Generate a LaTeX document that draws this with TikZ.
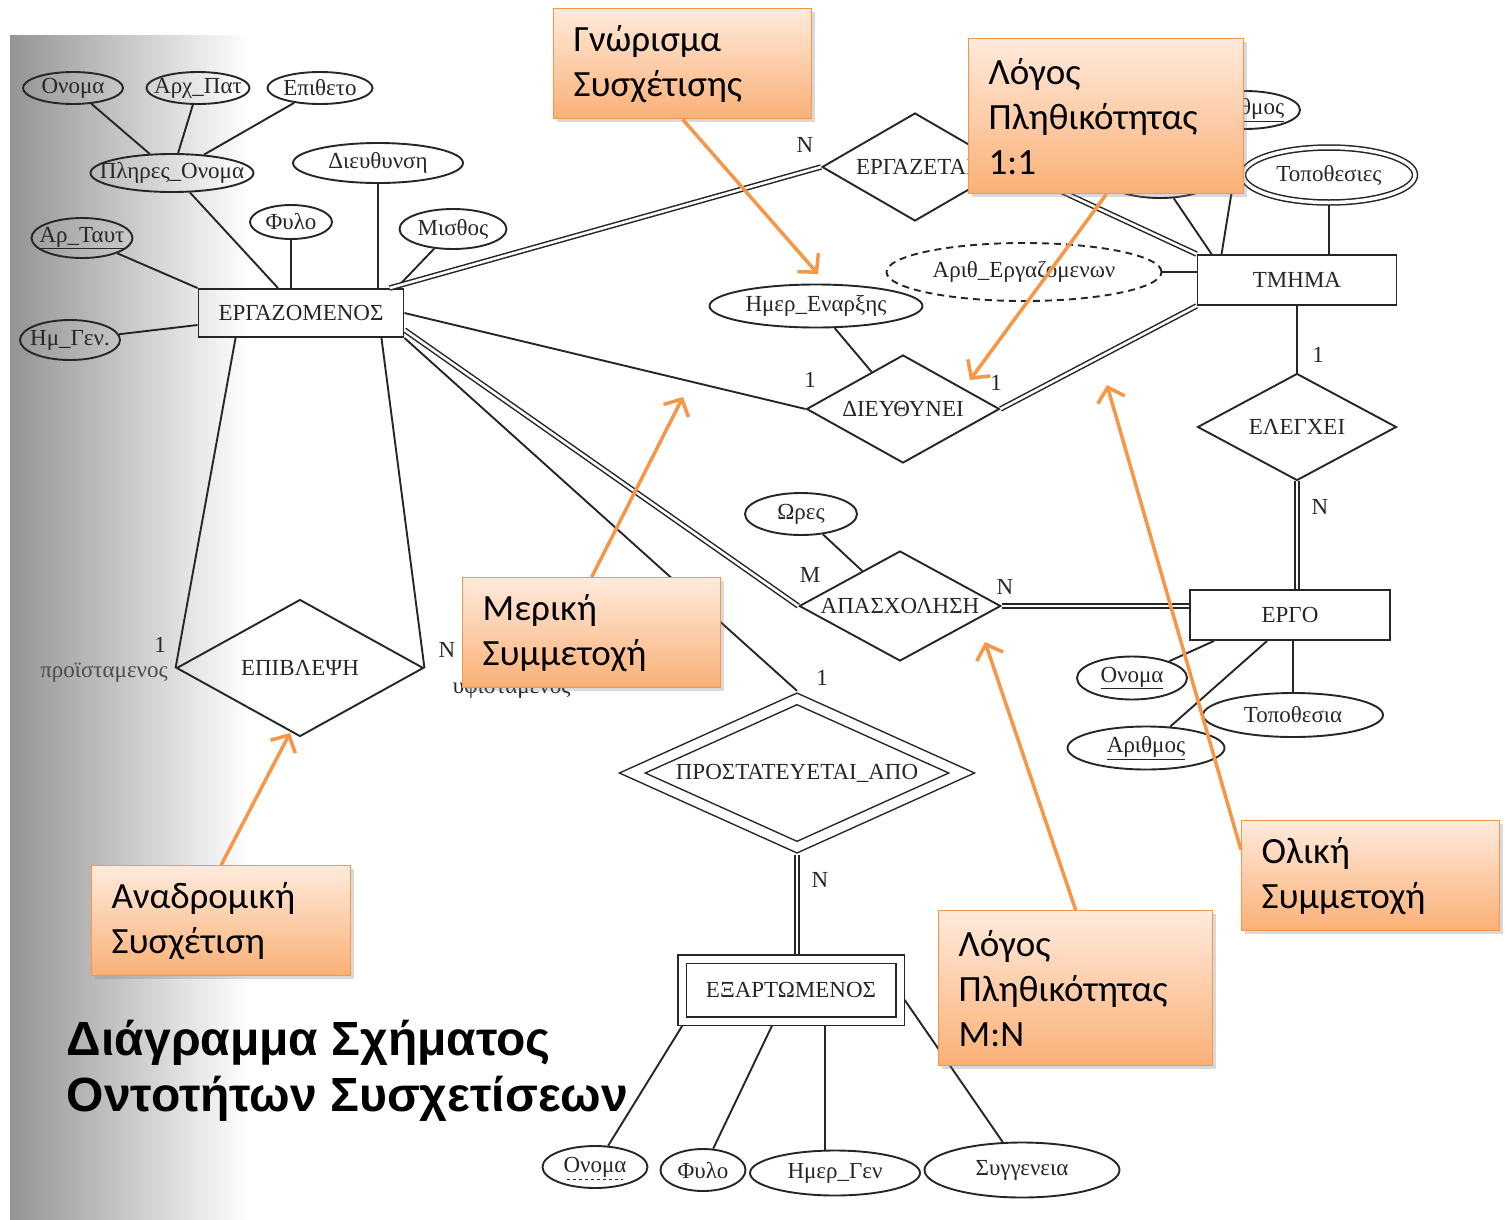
\documentclass[tikz,border=0pt]{standalone}
\usepackage{fontspec}
\setmainfont{Liberation Serif}
\newfontfamily\calfont{Carlito}
\newfontfamily\headfont{Liberation Sans}
\usepackage{tikz}
\usepackage{xcolor}
\usetikzlibrary{shapes.geometric, arrows.meta, shadows, positioning}

\definecolor{callorange}{RGB}{247,150,70}
\definecolor{calltop}{RGB}{255,234,220}
\definecolor{callbot}{RGB}{250,176,118}

\tikzset{
  entity/.style={draw, rectangle, inner sep=0pt},
  attrib/.style={draw, ellipse, inner xsep=-100pt, inner ysep=0pt},
  rel/.style={draw, diamond, aspect=2, inner sep=2pt},
  card/.style={inner sep=0pt},
  dbl/.style={double, double distance=2.6pt, line width=1.5pt},
  callout/.style={draw=callorange, line width=1.4pt, top color=calltop, bottom color=callbot,
    anchor=north west, align=left, inner xsep=20pt, inner ysep=0pt,
    font=\calfont\fontsize{37}{45}\selectfont,
    drop shadow={opacity=0.3, shadow xshift=3pt, shadow yshift=-3pt}},
  callarrow/.style={draw=callorange, line width=3.5pt, -{Straight Barb[length=13pt, width=28pt]}}
}

\begin{document}
\begin{tikzpicture}[x=1pt, y=-1pt, line width=1.9pt, draw=black!85, text=black!85, font=\fontsize{23}{25}\selectfont]
\useasboundingbox (0,0) rectangle (1505,1219);
\shade[left color=black!42, middle color=black!14, right color=white] (10,35) rectangle (250,1219);

% entities and relationships
\node[entity, minimum width=205pt, minimum height=48pt] (erg) at (301,313) {ΕΡΓΑΖΟΜΕΝΟΣ};
\node[entity, minimum width=199pt, minimum height=50pt] (tmima) at (1297,280) {ΤΜΗΜΑ};
\node[entity, minimum width=200pt, minimum height=50pt] (ergo) at (1290,615) {ΕΡΓΟ};
\node[entity, double, double distance=7pt, line width=1.5pt, outer sep=4.7pt, minimum width=218pt, minimum height=62pt] (exart) at (791,990) {ΕΞΑΡΤΩΜΕΝΟΣ};

\node[rel, minimum width=186pt, minimum height=108pt] (ergazetai) at (915,167) {ΕΡΓΑΖΕΤΑΙ};
\node[rel, minimum width=193pt, minimum height=108pt] (dieyth) at (903,409) {ΔΙΕΥΘΥΝΕΙ};
\node[rel, minimum width=199pt, minimum height=107pt] (elegxei) at (1297,427) {ΕΛΕΓΧΕΙ};
\node[rel, minimum width=194pt, minimum height=110pt] (apasx) at (900,606) {ΑΠΑΣΧΟΛΗΣΗ};
\node[rel, minimum width=247pt, minimum height=137pt] (epivl) at (300,668) {ΕΠΙΒΛΕΨΗ};
\node[rel, aspect=2.2, double, double distance=9pt, line width=1.5pt, outer sep=5.7pt, minimum width=334pt, minimum height=153pt] (prost) at (797,773) {ΠΡΟΣΤΑΤΕΥΕΤΑΙ\_ΑΠΟ};

% attributes
\node[attrib, minimum width=100pt, minimum height=32pt] (ono1) at (73,88) {Ονομα};
\node[attrib, minimum width=103pt, minimum height=32pt] (arxpat) at (198,88) {Αρχ\_Πατ};
\node[attrib, minimum width=105pt, minimum height=32pt] (epith) at (320,88) {Επιθετο};
\node[attrib, minimum width=163pt, minimum height=38pt] (plires) at (172,173) {Πληρες\_Ονομα};
\node[attrib, minimum width=170pt, minimum height=40pt] (dieythynsi) at (378,163) {Διευθυνση};
\node[attrib, minimum width=82pt, minimum height=34pt] (fylo) at (291,222) {Φυλο};
\node[attrib, minimum width=107pt, minimum height=40pt] (misthos) at (453,229) {Μισθος};
\node[attrib, minimum width=101pt, minimum height=40pt] (artayt) at (82,238) {\underline{Αρ\_Ταυτ}};
\node[attrib, minimum width=100pt, minimum height=40pt] (hmgen) at (70,340) {Ημ\_Γεν.};

\node[attrib, minimum width=110pt, minimum height=40pt] (tono) at (1160,178) {Ονομα};
\node[attrib, minimum width=110pt, minimum height=38pt] (tarith) at (1245,110) {\underline{Αριθμος}};
\node[attrib, double, double distance=3.5pt, line width=1.5pt, outer sep=3pt, minimum width=172pt, minimum height=55pt] (topoth) at (1329,175) {Τοποθεσιες};
\node[attrib, dash pattern=on 7pt off 5pt, minimum width=275pt, minimum height=58pt] (arithe) at (1024,272) {Αριθ\_Εργαζομενων};
\node[attrib, minimum width=213pt, minimum height=43pt] (hmerenar) at (816,306) {Ημερ\_Εναρξης};
\node[attrib, minimum width=112pt, minimum height=42pt] (ores) at (801,514) {Ωρες};

\node[attrib, minimum width=110pt, minimum height=43pt] (eono) at (1132,678) {\underline{Ονομα}};
\node[attrib, minimum width=157pt, minimum height=43pt] (earith) at (1146,748) {\underline{Αριθμος}};
\node[attrib, minimum width=180pt, minimum height=44pt] (etopo) at (1293,715) {Τοποθεσια};

\node[attrib, minimum width=105pt, minimum height=42pt] (dono) at (595,1167) {Ονομα};
\node[attrib, minimum width=85pt, minimum height=42pt] (dfylo) at (703,1170) {Φυλο};
\node[attrib, minimum width=170pt, minimum height=45pt] (dhmer) at (835,1173) {Ημερ\_Γεν};
\node[attrib, minimum width=195pt, minimum height=55pt] (dsygg) at (1022,1170) {Συγγενεια};
\draw[dashed, line width=0.9pt] ([shift={(-28,12)}]dono.center) -- ([shift={(28,12)}]dono.center);

% cardinalities and roles
\node[card] (cn1) at (805,145) {N};
\node[card] (cd1) at (810,380) {1};
\node[card] (cd2) at (996,383) {1};
\node[card] (ct1) at (1318,355) {1};
\node[card] (ce1) at (1320,507) {N};
\node[card] (ca1) at (810,575) {M};
\node[card] (ca2) at (1005,587) {N};
\node[card] (cp1) at (822,678) {1};
\node[card] (cp2) at (820,880) {N};
\node[card] (cs1) at (160,645) {1};
\node[card] (cs2) at (447,650) {N};
\node[card, text=black!70] (role1) at (104,673) {προϊσταμενος};
\node[card, anchor=west] (role2) at (452,690) {υφισταμενος};

% connectors
\draw (ono1) -- (plires);
\draw (arxpat) -- (plires);
\draw (epith) -- (plires);
\draw (plires) -- (erg);
\draw (fylo) -- (fylo |- erg.north);
\draw (dieythynsi) -- (dieythynsi |- erg.north);
\draw (misthos) -- ([xshift=-8pt]erg.north east);
\draw (artayt) -- (erg.north west);
\draw (hmgen) -- ([yshift=-12pt]erg.west);

\draw[dbl] (erg) -- (ergazetai.west);
\draw[dbl] (ergazetai.east) -- (tmima.north west);
\draw (erg.east) -- (dieyth.west);
\draw[dbl] (dieyth.east) -- (tmima.south west);
\draw[dbl] ([yshift=8pt]erg.south east) -- (apasx.west);
\draw (erg.south east) -- (prost.north);
\draw ([xshift=38pt]erg.south west) -- (epivl.west);
\draw ([xshift=-23pt]erg.south east) -- (epivl.east);
\draw (tmima) -- (elegxei);
\draw[dbl] (elegxei.south) -- (elegxei.south |- ergo.north);
\draw[dbl] (apasx.east) -- (apasx.east -| ergo.west);
\draw[dbl] (prost.south) -- (prost.south |- exart.north);

\draw (tono) -- ([xshift=15pt]tmima.north west);
\draw (tarith) -- ([xshift=25pt]tmima.north west);
\draw (topoth) -- (topoth |- tmima.north);
\draw (arithe.east) -- (arithe.east -| tmima.west);
\draw (hmerenar) -- (dieyth);
\draw (ores) -- (apasx);
\draw (eono) -- ([xshift=25pt]ergo.south west);
\draw (earith) -- ([xshift=78pt]ergo.south west);
\draw (etopo) -- (etopo |- ergo.south);

\coordinate (dh) at ([xshift=34pt]exart.south);
\draw ([xshift=5pt]exart.south west) -- (dono);
\draw ([xshift=-19pt]exart.south) -- (dfylo);
\draw (dh) -- (dh |- dhmer.north);
\draw ([yshift=-10pt]exart.east) -- (dsygg);

% callouts
\node[callout, text=black, text width=218pt, minimum height=110pt] (gnor) at (553,8) {Γνώρισμα\\Συσχέτισης};
\node[callout, text=black, text width=235pt, minimum height=155pt] (log11) at (968,38) {Λόγος\\Πληθικότητας\\1:1};
\node[callout, text=black, text width=218pt, minimum height=110pt] (meriki) at (462,577) {Μερική\\Συμμετοχή};
\node[callout, text=black, text width=219pt, minimum height=110pt] (anadr) at (91,865) {Αναδρομική\\Συσχέτιση};
\node[callout, text=black, text width=234pt, minimum height=155pt] (logmn) at (938,910) {Λόγος\\Πληθικότητας\\M:N};
\node[callout, text=black, text width=218pt, minimum height=110pt] (oliki) at (1241,820) {Ολική\\Συμμετοχή};

\coordinate (tipgn) at (818,274);
\coordinate (tip11) at (970,380);
\coordinate (tipmer) at (683,397);
\coordinate (tipan) at (290,733);
\coordinate (tipmn) at (985,642);
\coordinate (tipol) at (1107,385);
\draw[callarrow] (gnor.south) -- (tipgn);
\draw[callarrow] (log11.south) -- (tip11);
\draw[callarrow] (meriki.north) -- (tipmer);
\draw[callarrow] (anadr.north) -- (tipan);
\draw[callarrow] (logmn.north) -- (tipmn);
\draw[callarrow] ([yshift=-30pt]oliki.north west) -- (tipol);

\node[anchor=north west, align=left, inner sep=0pt, text=black, font=\headfont\bfseries\fontsize{48}{56}\selectfont] (title) at (66,1019) {Διάγραμμα Σχήματος\\Οντοτήτων Συσχετίσεων};
\end{tikzpicture}
\end{document}
